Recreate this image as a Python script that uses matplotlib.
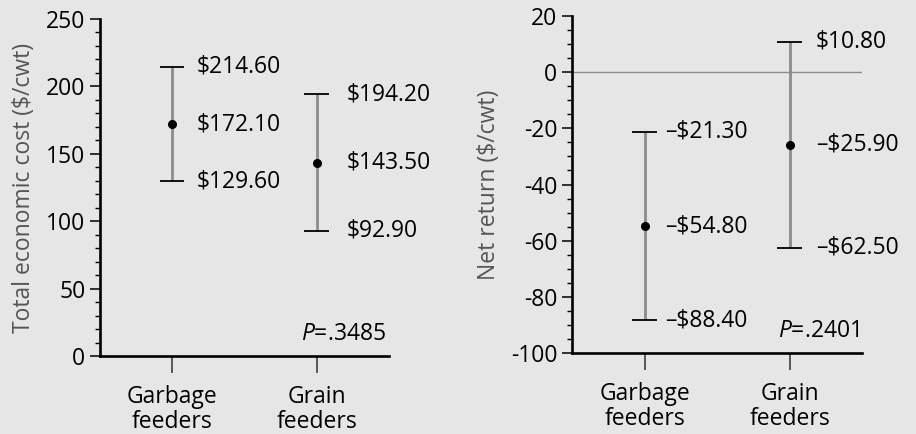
import matplotlib
matplotlib.use('Agg')
import matplotlib.pyplot as plt
from matplotlib.ticker import MultipleLocator

plt.rcParams['font.family'] = ['Open Sans', 'DejaVu Sans']
plt.rcParams['axes.unicode_minus'] = False
plt.rcParams['mathtext.fontset'] = 'custom'
plt.rcParams['mathtext.it'] = 'Open Sans:italic'
plt.rcParams['mathtext.rm'] = 'Open Sans'

groups = ['Garbage\nfeeders', 'Grain\nfeeders']

# total economic cost ($/cwt): mean with lower/upper bounds
cost_mean = [172.10, 143.50]
cost_low = [129.60, 92.90]
cost_high = [214.60, 194.20]
cost_p = '.3485'

# net return ($/cwt)
ret_mean = [-54.80, -25.90]
ret_low = [-88.40, -62.50]
ret_high = [-21.30, 10.80]
ret_p = '.2401'

bg = '#e6e6e6'
fs = 16.5
fig = plt.figure(figsize=(9.16, 4.34), dpi=100, facecolor=bg)
ax1 = fig.add_axes([0.109, 0.1797, 0.3155, 0.7765])
ax2 = fig.add_axes([0.6245, 0.1866, 0.3166, 0.7765])


def money(v):
    return ('\u2013$%.2f' % -v) if v < 0 else ('$%.2f' % v)


def draw_panel(ax, mean, low, high, ylim, major, minor, ylabel, pval, offsets):
    ax.set_facecolor(bg)
    x = list(range(len(groups)))
    for i in x:
        ax.vlines(i, low[i], high[i], color='#8c8c8c', lw=2.0, zorder=2)
        ax.hlines([low[i], high[i]], i - 0.085, i + 0.085, color='black', lw=1.3, zorder=3)
        ax.plot(i, mean[i], 'o', color='black', ms=5.5, zorder=4)
        for v in (low[i], mean[i], high[i]):
            ax.text(i + offsets[i], v, money(v), fontsize=fs, va='center', ha='left')
    ax.set_xlim(-0.5, 1.5)
    ax.set_ylim(*ylim)
    ax.set_xticks(x)
    ax.set_xticklabels(groups, fontsize=fs, linespacing=1.05)
    ax.yaxis.set_major_locator(MultipleLocator(major))
    ax.yaxis.set_minor_locator(MultipleLocator(minor))
    ax.tick_params(axis='y', which='major', length=7.5, width=1.1, labelsize=fs, pad=3)
    ax.tick_params(axis='y', which='minor', length=3.8, width=1.0)
    ax.tick_params(axis='x', length=12, width=1.1, color='#333333', pad=9)
    for s in ('top', 'right'):
        ax.spines[s].set_visible(False)
    for s in ('left', 'bottom'):
        ax.spines[s].set_linewidth(1.9)
    ax.set_ylabel(ylabel, fontsize=fs, color='#555555', labelpad=7)
    ax.text(0.99, 0.03, r'$\it{P}$' + '=' + pval, transform=ax.transAxes,
            ha='right', va='bottom', fontsize=fs)


draw_panel(ax1, cost_mean, cost_low, cost_high, (0, 250), 50, 10,
           'Total economic cost ($/cwt)', cost_p, [0.17, 0.21])
draw_panel(ax2, ret_mean, ret_low, ret_high, (-100, 20), 20, 5,
           'Net return ($/cwt)', ret_p, [0.14, 0.18])
ax2.axhline(0, color='#8c8c8c', lw=1.0, zorder=1)

fig.savefig('out.png', dpi=100, facecolor=bg)
